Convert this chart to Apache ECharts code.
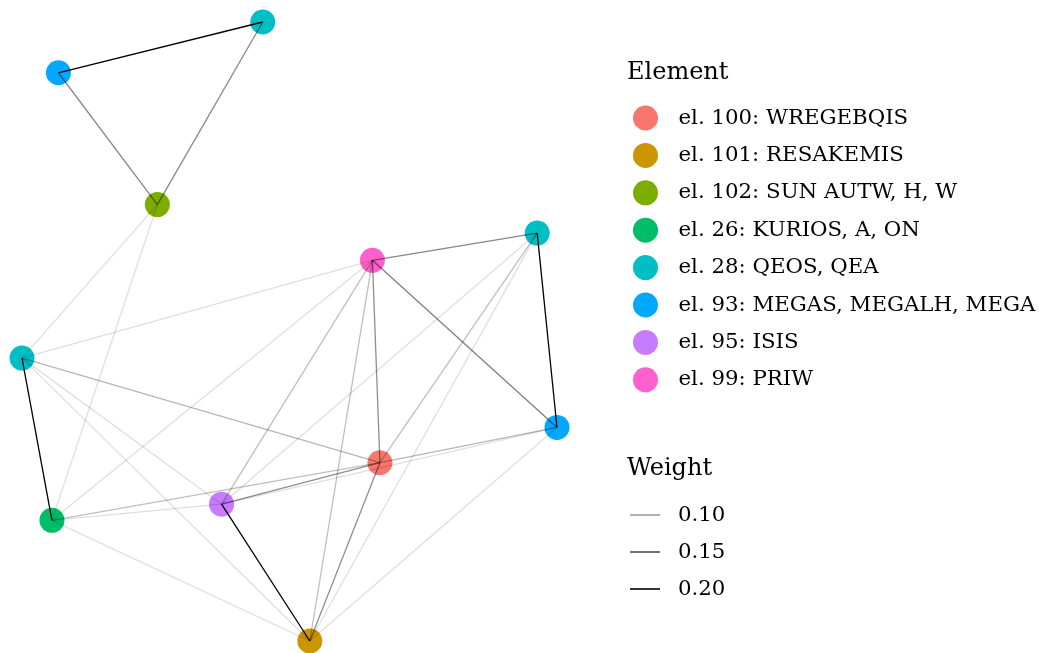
<!DOCTYPE html>
<html>
<head>
<meta charset="utf-8">
<script src="https://cdn.jsdelivr.net/npm/echarts@6/dist/echarts.min.js"></script>
<style>html,body{margin:0;padding:0;background:#fff;}#c{width:1039px;height:653px;}</style>
</head>
<body>
<div id="c"></div>
<script>
// Element groups (legend order) and colours
var elements = ['el. 100: WREGEBQIS','el. 101: RESAKEMIS','el. 102: SUN AUTW, H, W','el. 26: KURIOS, A, ON','el. 28: QEOS, QEA','el. 93: MEGAS, MEGALH, MEGA','el. 95: ISIS','el. 99: PRIW'];
var elementColors = ['#F8766D','#CD9600','#7CAE00','#00BE67','#00BFC4','#00A9FF','#C77CFF','#FF61CC'];

// Nodes: id, element index, layout x, layout y
var nodeIds  = ['A','B','C','D','E','F','G','H','I','J','K'];
var nodeElem = [4, 5, 2, 7, 4, 4, 5, 0, 3, 6, 1];
var nodeX    = [4.50, 0.68, 2.53, 6.55, 9.63, 0.00, 10.00, 6.69, 0.56, 3.73, 5.38];
var nodeY    = [10.00, 9.18, 7.05, 6.15, 6.59, 4.57, 3.45, 2.88, 1.95, 2.21, 0.00];

// Edges: source, target, weight
var edgeFrom   = ['A','F','J','E','B','A','D','D','D','H','H','F','D','D','E','G','I','C','C','D','D','E','E','F','F','G','G','I','I'];
var edgeTo     = ['B','I','K','G','C','C','E','G','H','K','J','H','J','K','H','H','H','F','I','F','I','J','K','J','K','J','K','J','K'];
var edgeWeight = [0.20,0.20,0.20,0.20,0.115,0.115,0.115,0.12,0.11,0.11,0.11,0.085,0.08,0.08,0.08,0.085,0.08,0.06,0.06,0.06,0.06,0.06,0.06,0.06,0.06,0.06,0.06,0.06,0.06];

// Weight legend
var weightBreaks = [0.10, 0.15, 0.20];
var wMin = 0.055, wMax = 0.20;

function alphaOf(w){ return 0.1 + 0.9 * (w - wMin) / (wMax - wMin); }
function greyOf(w){ var a = alphaOf(w); var v = Math.round(255*(1-a)); return 'rgb('+v+','+v+','+v+')'; }

var idx = {}; nodeIds.forEach(function(n,i){ idx[n]=i; });

var series = [];
elements.forEach(function(name, e){
  var pts = [];
  nodeIds.forEach(function(n,i){ if(nodeElem[i]===e) pts.push([nodeX[i], nodeY[i]]); });
  series.push({
    type:'scatter', name:name, data:pts, symbol:'circle', symbolSize:25,
    itemStyle:{color:elementColors[e], opacity:1}, z:2, silent:true
  });
});

var edgeData = edgeFrom.map(function(f,k){
  var a = idx[f], b = idx[edgeTo[k]];
  return { coords:[[nodeX[a],nodeY[a]],[nodeX[b],nodeY[b]]],
           lineStyle:{color:'#000', opacity:alphaOf(edgeWeight[k]), width:1.3} };
});
series.push({ type:'lines', coordinateSystem:'cartesian2d', data:edgeData, z:5, silent:true,
  lineStyle:{color:'#000', width:1.3}, symbol:['none','none'] });

weightBreaks.forEach(function(w){
  series.push({ type:'line', name:w.toFixed(2), data:[], showSymbol:false,
    itemStyle:{color:greyOf(w)}, lineStyle:{color:greyOf(w), width:1.3} });
});

var FONT = 'DejaVu Serif';
var chart = echarts.init(document.getElementById('c'), null, {renderer:'canvas'});
chart.setOption({
  animation:false,
  backgroundColor:'#fff',
  grid:{left:22, top:22, width:535, height:619},
  xAxis:{type:'value', min:0, max:10, show:false},
  yAxis:{type:'value', min:0, max:10, show:false},
  legend:[{
    data:elements, orient:'vertical', left:628, top:100.5,
    icon:'circle', itemWidth:56, itemHeight:25, itemGap:12.4,
    textStyle:{fontFamily:FONT, fontSize:21.3, color:'#000', lineHeight:25},
    selectedMode:false
  },{
    data:weightBreaks.map(function(w){return w.toFixed(2);}), orient:'vertical', left:625, top:497.5,
    icon:'rect', itemWidth:30, itemHeight:1.6, itemGap:12,
    textStyle:{fontFamily:FONT, fontSize:21.3, color:'#000', lineHeight:25, padding:[0,0,0,13]},
    selectedMode:false
  }],
  graphic:[
    {type:'text', left:627, top:61, style:{text:'Element', font:'24px "'+FONT+'"', fill:'#000'}},
    {type:'text', left:627, top:457, style:{text:'Weight', font:'24px "'+FONT+'"', fill:'#000'}}
  ],
  series:series
});
</script>
</body>
</html>
